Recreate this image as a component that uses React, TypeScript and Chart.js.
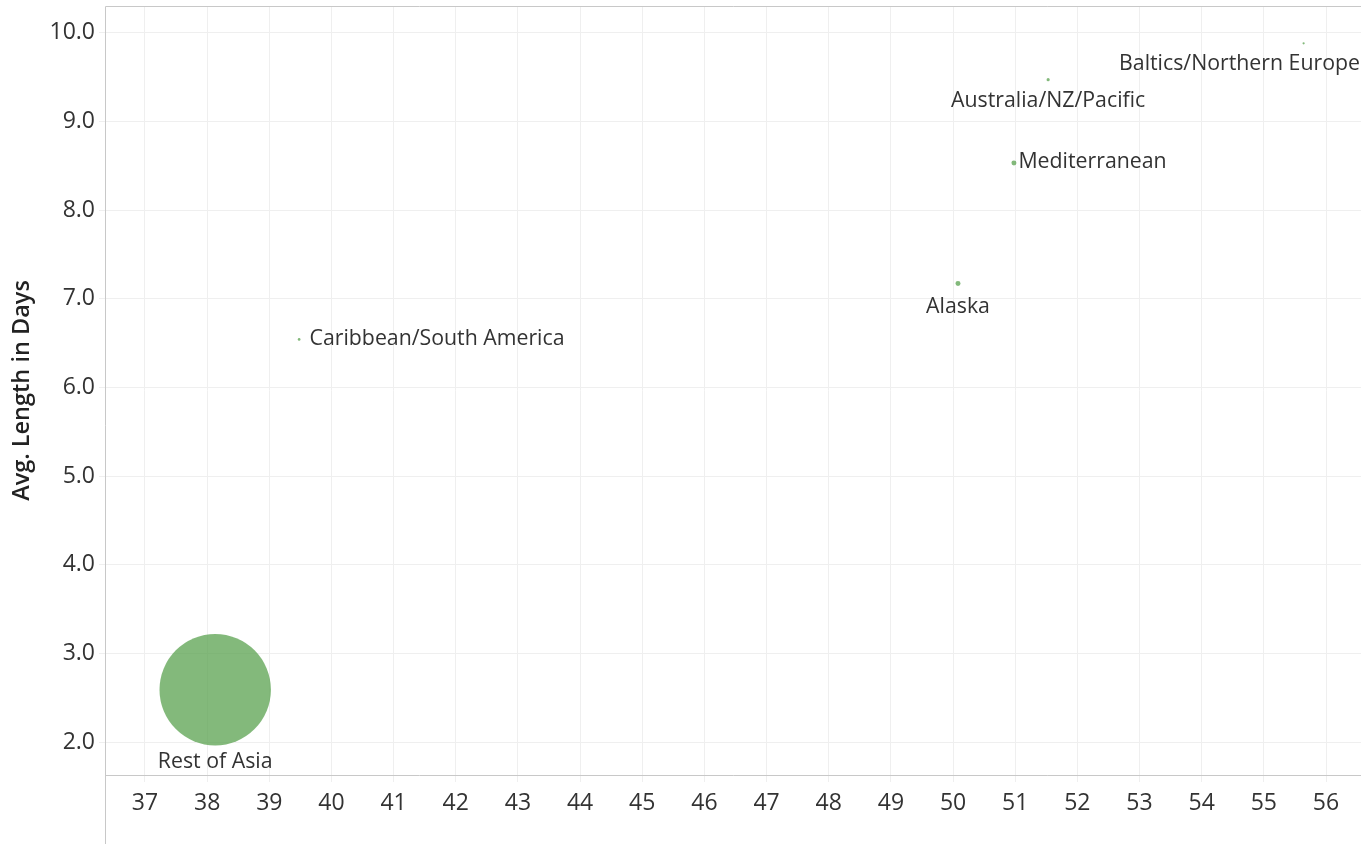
import React, { useEffect, useRef } from "react";
import { Chart, registerables } from "chart.js";

Chart.register(...registerables);

// ---- data ----
const regions = [
  "Rest of Asia",
  "Caribbean/South America",
  "Alaska",
  "Mediterranean",
  "Australia/NZ/Pacific",
  "Baltics/Northern Europe",
];
const avgPrice = [38.13, 39.48, 50.08, 50.98, 51.53, 55.64];
const avgLengthDays = [2.59, 6.54, 7.17, 8.53, 9.47, 9.88];
const cruiseCount = [5000, 3, 10, 10, 4, 2];
const xTickValues = [37, 38, 39, 40, 41, 42, 43, 44, 45, 46, 47, 48, 49, 50, 51, 52, 53, 54, 55, 56];
const yTickValues = [2, 3, 4, 5, 6, 7, 8, 9, 10];

// ---- label placement (style) ----
const labelPlacement: Record<string, { side: "below" | "right"; gap: number }> = {
  "Rest of Asia": { side: "below", gap: 17 },
  "Caribbean/South America": { side: "right", gap: 9 },
  Alaska: { side: "below", gap: 21 },
  Mediterranean: { side: "right", gap: 2 },
  "Australia/NZ/Pacific": { side: "below", gap: 20 },
  "Baltics/Northern Europe": { side: "below", gap: 19 },
};

const FONT = "'Open Sans', 'Noto Sans', sans-serif";
const GREEN = "rgba(89,161,79,0.75)";
const GRID = "#efefef";
const AXIS = "#c8c8c8";

const labelPlugin = {
  id: "pointLabels",
  afterDatasetsDraw(chart: any) {
    const { ctx, chartArea } = chart;
    const meta = chart.getDatasetMeta(0);
    ctx.save();
    ctx.font = `21.3px ${FONT}`;
    ctx.fillStyle = "#333333";
    meta.data.forEach((el: any, i: number) => {
      const name = regions[i];
      const p = labelPlacement[name];
      const r = el.options.radius;
      const w = ctx.measureText(name).width;
      if (p.side === "below") {
        let cx = el.x;
        if (cx + w / 2 > chartArea.right - 1) cx = chartArea.right - 1 - w / 2;
        ctx.textAlign = "center";
        ctx.textBaseline = "middle";
        ctx.fillText(name, cx, el.y + r + p.gap);
      } else {
        ctx.textAlign = "left";
        ctx.textBaseline = "middle";
        ctx.fillText(name, el.x + r + p.gap, el.y - 1);
      }
    });
    ctx.restore();
  },
};

const borderPlugin = {
  id: "frameLines",
  afterDraw(chart: any) {
    const { ctx, chartArea, height } = chart;
    ctx.save();
    ctx.strokeStyle = AXIS;
    ctx.lineWidth = 1;
    ctx.beginPath();
    const l = Math.round(chartArea.left) + 0.5;
    const t = Math.round(chartArea.top) + 0.5;
    const b = Math.round(chartArea.bottom) + 0.5;
    ctx.moveTo(l, t);
    ctx.lineTo(l, height);
    ctx.moveTo(l, t);
    ctx.lineTo(chartArea.right, t);
    ctx.moveTo(l, b);
    ctx.lineTo(chartArea.right, b);
    ctx.stroke();
    ctx.restore();
  },
};

const zeroPad = (s: any) => {
  s.paddingTop = 0;
  s.paddingBottom = 0;
  s.paddingLeft = 0;
  s.paddingRight = 0;
};

export default function App() {
  const ref = useRef<HTMLCanvasElement | null>(null);

  useEffect(() => {
    document.body.style.margin = "0";
    if (!ref.current) return;
    const k = 55.7 / Math.sqrt(5000);
    const chart = new Chart(ref.current, {
      type: "bubble",
      data: {
        datasets: [
          {
            label: "Regions",
            data: regions.map((_, i) => ({
              x: avgPrice[i],
              y: avgLengthDays[i],
              r: k * Math.sqrt(cruiseCount[i]),
            })),
            backgroundColor: GREEN,
            borderColor: GREEN,
            borderWidth: 0,
          },
        ],
      },
      options: {
        animation: false,
        responsive: false,
        maintainAspectRatio: false,
        layout: { autoPadding: false, padding: { top: 6, right: 0, left: 0, bottom: 0 } },
        plugins: {
          legend: { display: false },
          tooltip: { enabled: false },
        },
        scales: {
          x: {
            type: "linear",
            min: 36.357,
            max: 56.563,
            afterBuildTicks: (s: any) => {
              s.ticks = xTickValues.map((v) => ({ value: v }));
            },
            afterFit: (s: any) => {
              s.height = 69;
              zeroPad(s);
            },
            border: { display: false },
            grid: { color: GRID, tickColor: GRID, tickLength: 7, drawTicks: true },
            ticks: {
              color: "#333333",
              font: { family: FONT, size: 23 },
              padding: 8,
              maxRotation: 0,
              autoSkip: false,
              callback: (v: any) => String(v),
            },
          },
          y: {
            type: "linear",
            min: 1.628,
            max: 10.301,
            afterBuildTicks: (s: any) => {
              s.ticks = yTickValues.map((v) => ({ value: v }));
            },
            afterFit: (s: any) => {
              s.width = 105;
              zeroPad(s);
            },
            border: { display: false },
            grid: { color: GRID, tickColor: GRID, tickLength: 6 },
            ticks: {
              color: "#333333",
              font: { family: FONT, size: 23 },
              padding: 4,
              autoSkip: false,
              callback: (v: any) => Number(v).toFixed(1),
            },
            title: {
              display: true,
              text: "Avg. Length in Days",
              color: "#222222",
              font: { family: FONT, size: 23.5, weight: "600" },
              padding: { top: 8, bottom: 0 },
            },
          },
        },
      },
      plugins: [labelPlugin, borderPlugin],
    });
    return () => chart.destroy();
  }, []);

  return (
    <div style={{ width: 1361, height: 844 }}>
      <canvas ref={ref} width={1361} height={844} style={{ display: "block", width: 1361, height: 844 }} />
    </div>
  );
}
